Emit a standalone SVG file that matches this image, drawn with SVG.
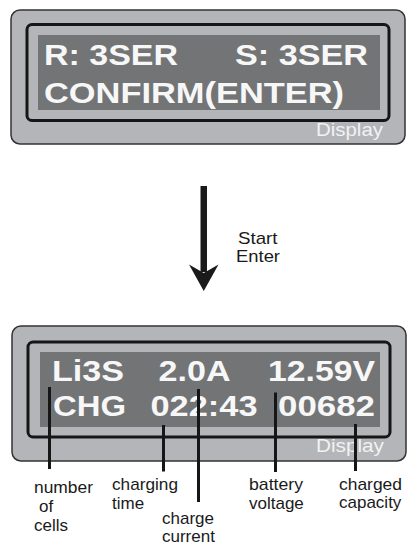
<svg xmlns="http://www.w3.org/2000/svg" width="420" height="556" viewBox="0 0 420 556">
<style>
.case{fill:#b4b5b8;stroke:#333;stroke-width:1.5}
.bezel{fill:#b4b5b8;stroke:#161616;stroke-width:3}
.lcd{fill:#737476}
.lt{font-family:"Liberation Sans",Arial,sans-serif;font-weight:bold;fill:#f7f7f7}
.disp{font-family:"Liberation Sans",Arial,sans-serif;font-size:18px;fill:#f2f2f2}
.lbl{font-family:"Liberation Sans",Arial,sans-serif;font-size:17px;fill:#1a1a1a}
.lead{stroke:#161616;stroke-width:3;fill:none}
</style>
<rect width="420" height="556" fill="#fff"/>
<g id="display-top">
<rect class="case" x="11" y="10" width="394" height="134" rx="9"/>
<rect class="bezel" x="27" y="24.5" width="362" height="96" rx="5"/>
<rect class="lcd" x="38" y="35" width="342" height="75"/>
<text class="lt" font-size="29" x="44" y="65" textLength="134" lengthAdjust="spacingAndGlyphs">R: 3SER</text>
<text class="lt" font-size="29" x="235" y="65" textLength="133" lengthAdjust="spacingAndGlyphs">S: 3SER</text>
<text class="lt" font-size="29" x="44" y="102.5" textLength="300" lengthAdjust="spacingAndGlyphs">CONFIRM(ENTER)</text>
<text class="disp" x="316" y="135.5" textLength="67" lengthAdjust="spacingAndGlyphs">Display</text>
</g>
<g id="step">
<path d="M200.5 186 H207 V272 H200.5 Z" fill="#1a1a1a"/>
<path d="M189 264.5 L203.75 273 L218.5 264.5 L203.75 291 Z" fill="#1a1a1a"/>
<text class="lbl" font-size="17.5" x="238" y="244" textLength="39.5" lengthAdjust="spacingAndGlyphs">Start</text>
<text class="lbl" font-size="17.5" x="236" y="261.5" textLength="44" lengthAdjust="spacingAndGlyphs">Enter</text>
</g>
<g id="display-bottom">
<rect class="case" x="12" y="326" width="394" height="135" rx="9"/>
<rect class="bezel" x="28" y="342" width="362" height="95" rx="5"/>
<rect class="lcd" x="40" y="352" width="340" height="75"/>
<text class="lt" font-size="29" x="52" y="381" textLength="72" lengthAdjust="spacingAndGlyphs">Li3S</text>
<text class="lt" font-size="29" x="158.5" y="381" textLength="72" lengthAdjust="spacingAndGlyphs">2.0A</text>
<text class="lt" font-size="29" x="268" y="381" textLength="107" lengthAdjust="spacingAndGlyphs">12.59V</text>
<text class="lt" font-size="29" x="53" y="416" textLength="73" lengthAdjust="spacingAndGlyphs">CHG</text>
<text class="lt" font-size="29" x="150.5" y="416" textLength="107" lengthAdjust="spacingAndGlyphs">022:43</text>
<text class="lt" font-size="29" x="278" y="416" textLength="97" lengthAdjust="spacingAndGlyphs">00682</text>
<text class="disp" x="316" y="451.5" textLength="68" lengthAdjust="spacingAndGlyphs">Display</text>
</g>
<g id="connectors">
<line class="lead" x1="49.5" y1="387" x2="49.5" y2="469"/>
<line class="lead" x1="163.5" y1="425" x2="163.5" y2="471.5"/>
<line class="lead" x1="198.5" y1="389" x2="198.5" y2="502"/>
<line class="lead" x1="275.5" y1="392.5" x2="275.5" y2="472"/>
<line class="lead" x1="355.5" y1="424" x2="355.5" y2="471"/>
</g>
<g id="labels">
<text class="lbl" x="34" y="493" textLength="59" lengthAdjust="spacingAndGlyphs">number</text>
<text class="lbl" x="39" y="512">of</text>
<text class="lbl" x="34" y="531">cells</text>
<text class="lbl" x="112" y="490" textLength="66" lengthAdjust="spacingAndGlyphs">charging</text>
<text class="lbl" x="112" y="508.5">time</text>
<text class="lbl" x="162" y="524">charge</text>
<text class="lbl" x="162" y="542">current</text>
<text class="lbl" x="249" y="490" textLength="54" lengthAdjust="spacingAndGlyphs">battery</text>
<text class="lbl" x="249" y="508.5">voltage</text>
<text class="lbl" x="339" y="489.5" textLength="63" lengthAdjust="spacingAndGlyphs">charged</text>
<text class="lbl" x="339" y="507.5">capacity</text>
</g>
</svg>
